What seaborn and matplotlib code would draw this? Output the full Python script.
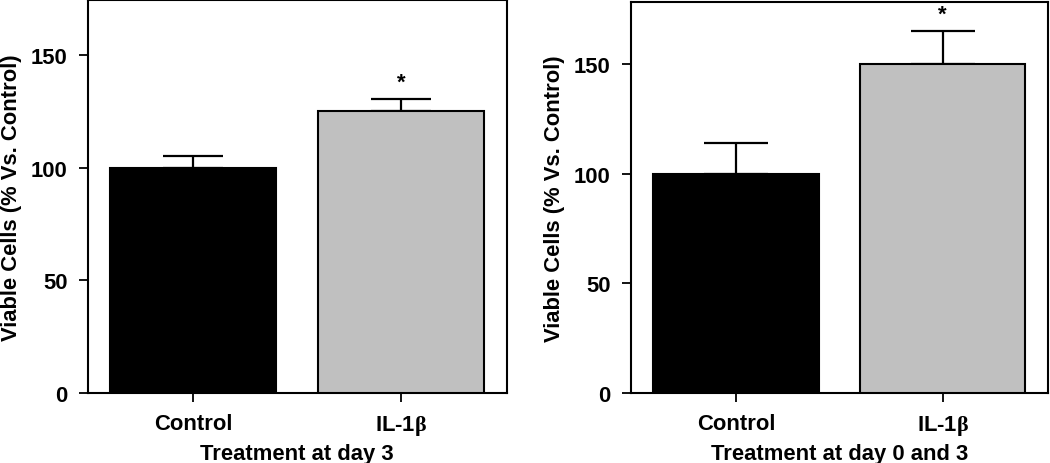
import matplotlib
matplotlib.use("Agg")
import matplotlib.pyplot as plt
import seaborn as sns
import pandas as pd

sns.set_theme(style="white")
plt.rcParams['font.family'] = ['Liberation Sans', 'DejaVu Sans']
plt.rcParams['font.weight'] = 'bold'
plt.rcParams['text.color'] = 'black'
plt.rcParams['axes.labelcolor'] = 'black'
plt.rcParams['xtick.color'] = 'black'
plt.rcParams['ytick.color'] = 'black'
plt.rcParams['mathtext.fontset'] = 'custom'
plt.rcParams['mathtext.rm'] = 'Liberation Serif'
plt.rcParams['mathtext.it'] = 'Liberation Serif'

categories = ["Control", "IL-1$\\mathrm{\\beta}$"]
left_means = [100, 125]
left_errs = [5.3, 5.3]
right_means = [100, 150]
right_errs = [14.2, 15.2]
left_sig = ["", "*"]
right_sig = ["", "*"]
left_xlabel = "Treatment at day 3"
right_xlabel = "Treatment at day 0 and 3"
ylabel = "Viable Cells (% Vs. Control)"
yticks = [0, 50, 100, 150]
colors = ["#000000", "#c0c0c0"]

fig = plt.figure(figsize=(10.5, 4.64), dpi=100)
axL = fig.add_axes([87.5/1050, 70/464, 419.5/1050, 393/464])
axR = fig.add_axes([630.5/1050, 70/464, 417.5/1050, 391/464])

FS = 15.8

def draw(ax, means, errs, sig, xlabel, ytop, capsize):
    df = pd.DataFrame({"cat": categories, "val": means})
    sns.barplot(data=df, x="cat", y="val", hue="cat", palette=colors,
                width=0.8, edgecolor="black", linewidth=1.5,
                errorbar=None, legend=False, ax=ax, zorder=3)
    xs = list(range(len(means)))
    ax.errorbar(xs, means, yerr=[[0]*len(errs), errs], fmt="none",
                ecolor="black", elinewidth=1.6, capsize=capsize,
                capthick=1.6, zorder=2)
    for x, m, e, s in zip(xs, means, errs, sig):
        if s:
            ax.annotate(s, (x, m + e), xytext=(0, 12), textcoords="offset points",
                        ha="center", va="center", fontsize=16, fontweight="bold",
                        color="black")
    ax.set_xlim(-0.51, 1.51)
    ax.set_ylim(0, ytop)
    ax.set_yticks(yticks)
    ax.set_xlabel(xlabel, fontsize=FS, fontweight="bold", labelpad=4)
    ax.set_ylabel(ylabel, fontsize=FS, fontweight="bold", labelpad=6)
    ax.tick_params(axis="both", direction="out", length=6.5, width=1.3,
                   labelsize=FS, pad=8, color="black", labelcolor="black",
                   bottom=True, left=True)
    for lab in ax.get_xticklabels() + ax.get_yticklabels():
        lab.set_fontweight("bold")
    for sp in ax.spines.values():
        sp.set_visible(True)
        sp.set_color("black")
        sp.set_linewidth(1.5)

draw(axL, left_means, left_errs, left_sig, left_xlabel, 174.4, 21.6)
draw(axR, right_means, right_errs, right_sig, right_xlabel, 178.3, 22.7)

fig.savefig("out.png", dpi=100, facecolor="white")
